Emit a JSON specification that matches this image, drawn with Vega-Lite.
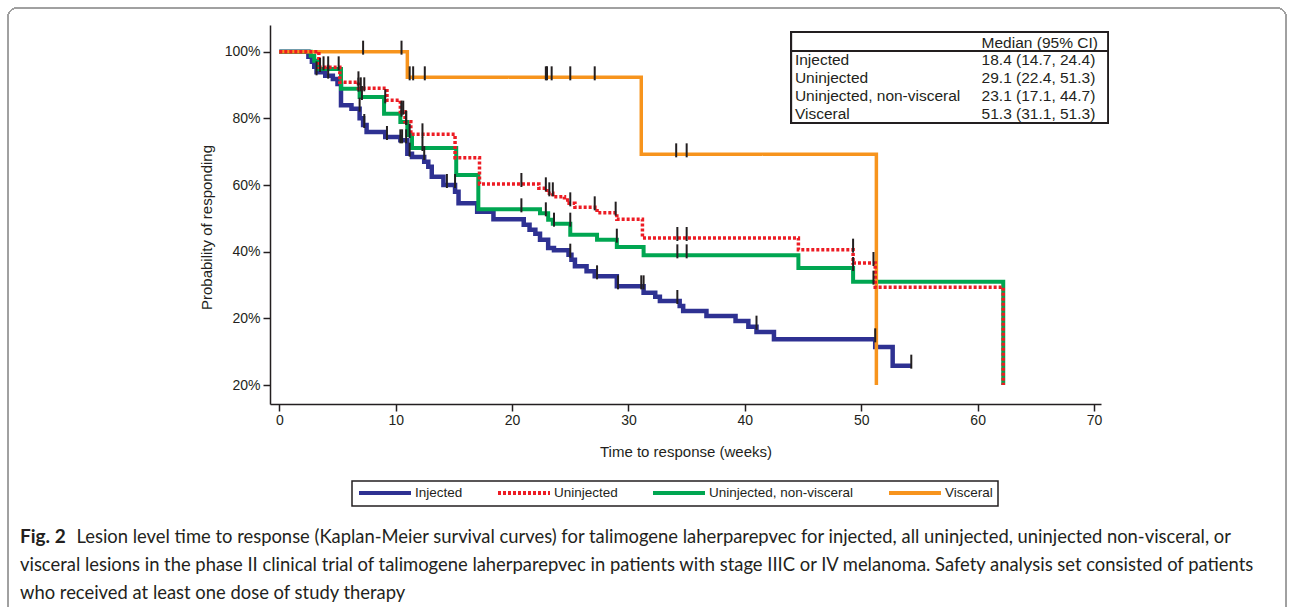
{
  "$schema": "https://vega.github.io/schema/vega-lite/v6.json",
  "width": 831,
  "height": 379,
  "autosize": {"type": "none"},
  "padding": {"left": 270, "top": 25, "right": 189, "bottom": 203},
  "background": "white",
  "config": {
    "view": {"stroke": null},
    "axis": {
      "grid": false,
      "domainColor": "#231F20",
      "domainWidth": 1.5,
      "tickColor": "#231F20",
      "tickWidth": 1.5,
      "tickSize": 7,
      "labelFont": "Liberation Sans",
      "labelFontSize": 14,
      "labelColor": "#231F20",
      "titleFont": "Liberation Sans",
      "titleFontSize": 15,
      "titleFontWeight": "normal",
      "titleColor": "#231F20"
    },
    "legend": {
      "strokeColor": "#231F20",
      "strokeWidth": 1.5,
      "padding": 5,
      "cornerRadius": 0,
      "fillColor": "white"
    }
  },
  "title": {
    "text": "Fig. 2",
    "subtitle": [
      "\u200b\u00a0\u00a0\u00a0\u00a0\u00a0\u00a0\u00a0\u00a0\u00a0\u00a0\u00a0\u00a0Lesion level time to response (Kaplan-Meier survival curves) for talimogene laherparepvec for injected, all uninjected, uninjected non-visceral, or",
      "visceral lesions in the phase II clinical trial of talimogene laherparepvec in patients with stage IIIC or IV melanoma. Safety analysis set consisted of patients",
      "who received at least one dose of study therapy"
    ],
    "orient": "bottom",
    "anchor": "start",
    "frame": "group",
    "dx": -250,
    "offset": -93,
    "font": "Lato",
    "fontSize": 19,
    "fontWeight": "bold",
    "color": "#231F20",
    "subtitleFont": "Lato",
    "subtitleFontSize": 18.4,
    "subtitleFontWeight": "normal",
    "subtitleColor": "#231F20",
    "subtitleLineHeight": 28,
    "subtitlePadding": -19
  },
  "datasets": {
    "curves": [
      {"series": "Injected", "t": 0, "p": 1},
      {"series": "Injected", "t": 2.5, "p": 0.985},
      {"series": "Injected", "t": 2.8, "p": 0.97},
      {"series": "Injected", "t": 3.0, "p": 0.955},
      {"series": "Injected", "t": 3.2, "p": 0.938},
      {"series": "Injected", "t": 3.95, "p": 0.928},
      {"series": "Injected", "t": 4.6, "p": 0.918},
      {"series": "Injected", "t": 5.0, "p": 0.903},
      {"series": "Injected", "t": 5.3, "p": 0.839},
      {"series": "Injected", "t": 6.2, "p": 0.829},
      {"series": "Injected", "t": 6.9, "p": 0.8},
      {"series": "Injected", "t": 7.2, "p": 0.78},
      {"series": "Injected", "t": 7.5, "p": 0.759},
      {"series": "Injected", "t": 9.1, "p": 0.744},
      {"series": "Injected", "t": 10.4, "p": 0.734},
      {"series": "Injected", "t": 11.0, "p": 0.694},
      {"series": "Injected", "t": 11.4, "p": 0.684},
      {"series": "Injected", "t": 12.45, "p": 0.67},
      {"series": "Injected", "t": 12.8, "p": 0.655},
      {"series": "Injected", "t": 13.1, "p": 0.625},
      {"series": "Injected", "t": 14.1, "p": 0.6},
      {"series": "Injected", "t": 15.1, "p": 0.58},
      {"series": "Injected", "t": 15.4, "p": 0.545},
      {"series": "Injected", "t": 17.0, "p": 0.52},
      {"series": "Injected", "t": 18.4, "p": 0.497},
      {"series": "Injected", "t": 21.0, "p": 0.481},
      {"series": "Injected", "t": 21.5, "p": 0.466},
      {"series": "Injected", "t": 22.0, "p": 0.454},
      {"series": "Injected", "t": 22.4, "p": 0.436},
      {"series": "Injected", "t": 23.1, "p": 0.411},
      {"series": "Injected", "t": 23.6, "p": 0.404},
      {"series": "Injected", "t": 24.85, "p": 0.391},
      {"series": "Injected", "t": 25.1, "p": 0.376},
      {"series": "Injected", "t": 25.4, "p": 0.356},
      {"series": "Injected", "t": 26.4, "p": 0.341},
      {"series": "Injected", "t": 27.1, "p": 0.326},
      {"series": "Injected", "t": 29.0, "p": 0.296},
      {"series": "Injected", "t": 31.3, "p": 0.277},
      {"series": "Injected", "t": 32.3, "p": 0.265},
      {"series": "Injected", "t": 32.7, "p": 0.252},
      {"series": "Injected", "t": 34.4, "p": 0.237},
      {"series": "Injected", "t": 34.7, "p": 0.222},
      {"series": "Injected", "t": 36.7, "p": 0.207},
      {"series": "Injected", "t": 39.2, "p": 0.192},
      {"series": "Injected", "t": 40.3, "p": 0.175},
      {"series": "Injected", "t": 41.0, "p": 0.159},
      {"series": "Injected", "t": 42.5, "p": 0.137},
      {"series": "Injected", "t": 51.2, "p": 0.114},
      {"series": "Injected", "t": 52.7, "p": 0.058},
      {"series": "Injected", "t": 54.3, "p": 0.058},
      {"series": "Uninjected", "t": 0, "p": 1},
      {"series": "Uninjected", "t": 3.4, "p": 0.953},
      {"series": "Uninjected", "t": 5.2, "p": 0.908},
      {"series": "Uninjected", "t": 6.8, "p": 0.89},
      {"series": "Uninjected", "t": 9.25, "p": 0.854},
      {"series": "Uninjected", "t": 10.4, "p": 0.82},
      {"series": "Uninjected", "t": 10.8, "p": 0.79},
      {"series": "Uninjected", "t": 11.3, "p": 0.752},
      {"series": "Uninjected", "t": 15.1, "p": 0.682},
      {"series": "Uninjected", "t": 17.2, "p": 0.603},
      {"series": "Uninjected", "t": 22.3, "p": 0.59},
      {"series": "Uninjected", "t": 23.0, "p": 0.575},
      {"series": "Uninjected", "t": 23.5, "p": 0.565},
      {"series": "Uninjected", "t": 24.5, "p": 0.555},
      {"series": "Uninjected", "t": 24.9, "p": 0.545},
      {"series": "Uninjected", "t": 25.4, "p": 0.533},
      {"series": "Uninjected", "t": 27.3, "p": 0.517},
      {"series": "Uninjected", "t": 29.0, "p": 0.497},
      {"series": "Uninjected", "t": 31.2, "p": 0.441},
      {"series": "Uninjected", "t": 44.6, "p": 0.406},
      {"series": "Uninjected", "t": 49.3, "p": 0.366},
      {"series": "Uninjected", "t": 51.2, "p": 0.293},
      {"series": "Uninjected", "t": 62.2, "p": 0},
      {"series": "Uninjected, non-visceral", "t": 0, "p": 1},
      {"series": "Uninjected, non-visceral", "t": 2.7, "p": 0.988},
      {"series": "Uninjected, non-visceral", "t": 3.0, "p": 0.973},
      {"series": "Uninjected, non-visceral", "t": 3.3, "p": 0.948},
      {"series": "Uninjected, non-visceral", "t": 5.3, "p": 0.889},
      {"series": "Uninjected, non-visceral", "t": 6.9, "p": 0.864},
      {"series": "Uninjected, non-visceral", "t": 9.0, "p": 0.814},
      {"series": "Uninjected, non-visceral", "t": 10.4, "p": 0.789},
      {"series": "Uninjected, non-visceral", "t": 11.0, "p": 0.75},
      {"series": "Uninjected, non-visceral", "t": 11.4, "p": 0.711},
      {"series": "Uninjected, non-visceral", "t": 15.2, "p": 0.63},
      {"series": "Uninjected, non-visceral", "t": 17.1, "p": 0.527},
      {"series": "Uninjected, non-visceral", "t": 22.4, "p": 0.515},
      {"series": "Uninjected, non-visceral", "t": 23.1, "p": 0.496},
      {"series": "Uninjected, non-visceral", "t": 23.5, "p": 0.484},
      {"series": "Uninjected, non-visceral", "t": 25.0, "p": 0.451},
      {"series": "Uninjected, non-visceral", "t": 27.3, "p": 0.436},
      {"series": "Uninjected, non-visceral", "t": 29.0, "p": 0.414},
      {"series": "Uninjected, non-visceral", "t": 31.3, "p": 0.389},
      {"series": "Uninjected, non-visceral", "t": 44.6, "p": 0.351},
      {"series": "Uninjected, non-visceral", "t": 49.3, "p": 0.31},
      {"series": "Uninjected, non-visceral", "t": 62.2, "p": 0},
      {"series": "Visceral", "t": 0, "p": 1},
      {"series": "Visceral", "t": 11.0, "p": 0.923},
      {"series": "Visceral", "t": 31.1, "p": 0.692},
      {"series": "Visceral", "t": 51.3, "p": 0}
    ],
    "censors": [
      {"series": "Injected", "t": 3.2, "p": 0.938},
      {"series": "Injected", "t": 4.2, "p": 0.928},
      {"series": "Injected", "t": 6.9, "p": 0.829},
      {"series": "Injected", "t": 7.3, "p": 0.78},
      {"series": "Injected", "t": 9.25, "p": 0.744},
      {"series": "Injected", "t": 10.4, "p": 0.734},
      {"series": "Injected", "t": 10.55, "p": 0.734},
      {"series": "Injected", "t": 10.9, "p": 0.734},
      {"series": "Injected", "t": 11.2, "p": 0.694},
      {"series": "Injected", "t": 12.45, "p": 0.684},
      {"series": "Injected", "t": 14.4, "p": 0.6},
      {"series": "Injected", "t": 15.1, "p": 0.6},
      {"series": "Injected", "t": 25.0, "p": 0.391},
      {"series": "Injected", "t": 27.3, "p": 0.326},
      {"series": "Injected", "t": 29.1, "p": 0.296},
      {"series": "Injected", "t": 31.1, "p": 0.296},
      {"series": "Injected", "t": 31.3, "p": 0.296},
      {"series": "Injected", "t": 34.2, "p": 0.252},
      {"series": "Injected", "t": 41.0, "p": 0.175},
      {"series": "Injected", "t": 51.2, "p": 0.137},
      {"series": "Injected", "t": 54.3, "p": 0.058},
      {"series": "Uninjected", "t": 3.8, "p": 0.953},
      {"series": "Uninjected", "t": 4.2, "p": 0.953},
      {"series": "Uninjected", "t": 5.1, "p": 0.953},
      {"series": "Uninjected", "t": 6.8, "p": 0.908},
      {"series": "Uninjected", "t": 7.0, "p": 0.89},
      {"series": "Uninjected", "t": 7.3, "p": 0.89},
      {"series": "Uninjected", "t": 9.1, "p": 0.854},
      {"series": "Uninjected", "t": 10.5, "p": 0.82},
      {"series": "Uninjected", "t": 10.65, "p": 0.82},
      {"series": "Uninjected", "t": 10.9, "p": 0.79},
      {"series": "Uninjected", "t": 12.3, "p": 0.752},
      {"series": "Uninjected", "t": 20.8, "p": 0.603},
      {"series": "Uninjected", "t": 22.9, "p": 0.59},
      {"series": "Uninjected", "t": 23.2, "p": 0.575},
      {"series": "Uninjected", "t": 23.5, "p": 0.575},
      {"series": "Uninjected", "t": 25.0, "p": 0.545},
      {"series": "Uninjected", "t": 27.1, "p": 0.533},
      {"series": "Uninjected", "t": 28.9, "p": 0.517},
      {"series": "Uninjected", "t": 34.2, "p": 0.441},
      {"series": "Uninjected", "t": 35.0, "p": 0.441},
      {"series": "Uninjected", "t": 49.3, "p": 0.406},
      {"series": "Uninjected", "t": 51.05, "p": 0.366},
      {"series": "Uninjected, non-visceral", "t": 3.5, "p": 0.948},
      {"series": "Uninjected, non-visceral", "t": 6.8, "p": 0.889},
      {"series": "Uninjected, non-visceral", "t": 7.1, "p": 0.864},
      {"series": "Uninjected, non-visceral", "t": 10.5, "p": 0.814},
      {"series": "Uninjected, non-visceral", "t": 10.9, "p": 0.789},
      {"series": "Uninjected, non-visceral", "t": 11.2, "p": 0.75},
      {"series": "Uninjected, non-visceral", "t": 12.3, "p": 0.711},
      {"series": "Uninjected, non-visceral", "t": 20.8, "p": 0.527},
      {"series": "Uninjected, non-visceral", "t": 22.9, "p": 0.515},
      {"series": "Uninjected, non-visceral", "t": 23.6, "p": 0.484},
      {"series": "Uninjected, non-visceral", "t": 25.0, "p": 0.484},
      {"series": "Uninjected, non-visceral", "t": 29.0, "p": 0.436},
      {"series": "Uninjected, non-visceral", "t": 34.2, "p": 0.389},
      {"series": "Uninjected, non-visceral", "t": 35.0, "p": 0.389},
      {"series": "Uninjected, non-visceral", "t": 49.3, "p": 0.351},
      {"series": "Uninjected, non-visceral", "t": 51.05, "p": 0.31},
      {"series": "Visceral", "t": 7.2, "p": 1},
      {"series": "Visceral", "t": 10.5, "p": 1},
      {"series": "Visceral", "t": 11.2, "p": 0.923},
      {"series": "Visceral", "t": 11.5, "p": 0.923},
      {"series": "Visceral", "t": 12.5, "p": 0.923},
      {"series": "Visceral", "t": 22.9, "p": 0.923},
      {"series": "Visceral", "t": 23.0, "p": 0.923},
      {"series": "Visceral", "t": 23.4, "p": 0.923},
      {"series": "Visceral", "t": 25.0, "p": 0.923},
      {"series": "Visceral", "t": 27.1, "p": 0.923},
      {"series": "Visceral", "t": 34.1, "p": 0.692},
      {"series": "Visceral", "t": 35.0, "p": 0.692}
    ],
    "table": [
      {"row": "h", "label": "", "value": "Median (95% CI)"},
      {"row": "a", "label": "Injected", "value": "18.4 (14.7, 24.4)"},
      {"row": "b", "label": "Uninjected", "value": "29.1 (22.4, 51.3)"},
      {"row": "c", "label": "Uninjected, non-visceral", "value": "23.1 (17.1, 44.7)"},
      {"row": "d", "label": "Visceral", "value": "51.3 (31.1, 51.3)"}
    ]
  },
  "layer": [
    {
      "data": {"name": "curves"},
      "encoding": {
        "x": {
          "field": "t",
          "type": "quantitative",
          "scale": {"domain": [-0.8, 70.6], "nice": false, "zero": false},
          "axis": {
            "title": "Time to response (weeks)",
            "values": [0, 10, 20, 30, 40, 50, 60, 70],
            "format": "d",
            "labelPadding": 2,
            "titlePadding": 17
          }
        },
        "y": {
          "field": "p",
          "type": "quantitative",
          "scale": {"domain": [-0.057, 1.08], "nice": false, "zero": false},
          "axis": {
            "title": "Probability of responding",
            "values": [0, 0.2, 0.4, 0.6, 0.8, 1],
            "labelExpr": "datum.value == 0 ? '20%' : format(datum.value, '.0%')",
            "labelPadding": 3,
            "titlePadding": 10,
            "titleY": 202
          }
        },
        "color": {
          "field": "series",
          "type": "nominal",
          "scale": {
            "domain": ["Injected", "Uninjected", "Uninjected, non-visceral", "Visceral"],
            "range": ["#2E3192", "#ED1C24", "#00A651", "#F7941D"]
          },
          "legend": {
            "title": null,
            "orient": "none",
            "legendX": 82,
            "legendY": 456,
            "direction": "horizontal",
            "symbolType": "M-1,0H9.4",
            "symbolSize": 100,
            "symbolStrokeWidth": 4,
            "labelFont": "Liberation Sans",
            "labelFontSize": 13.5,
            "labelColor": "#231F20",
            "labelOffset": 44,
            "columnPadding": 27
          }
        },
        "strokeDash": {
          "field": "series",
          "type": "nominal",
          "scale": {
            "domain": ["Injected", "Uninjected", "Uninjected, non-visceral", "Visceral"],
            "range": [[1, 0], [3, 2], [1, 0], [1, 0]]
          },
          "legend": {
            "title": null,
            "orient": "none",
            "legendX": 82,
            "legendY": 456,
            "direction": "horizontal",
            "symbolType": "M-1,0H9.4",
            "symbolSize": 100,
            "symbolStrokeWidth": 4,
            "labelFont": "Liberation Sans",
            "labelFontSize": 13.5,
            "labelColor": "#231F20",
            "labelOffset": 44,
            "columnPadding": 27
          }
        }
      },
      "layer": [
        {
          "mark": {"type": "rect", "fill": null, "fillOpacity": 0, "stroke": "#A0A0A0", "strokeWidth": 1, "cornerRadius": 9},
          "encoding": {
            "x": {"datum": -23.31, "type": "quantitative"},
            "x2": {"datum": 86.49},
            "y": {"datum": 1.131, "type": "quantitative"},
            "y2": {"datum": -0.705},
            "color": {"value": "transparent"},
            "strokeDash": {"value": [1, 0]}
          }
        },
        {
          "mark": {"type": "rect", "fill": "white", "stroke": "#231F20", "strokeWidth": 1.5},
          "encoding": {
            "x": {"datum": 44.0, "type": "quantitative"},
            "x2": {"datum": 71.19},
            "y": {"datum": 1.058, "type": "quantitative"},
            "y2": {"datum": 0.787},
            "color": {"value": "white"},
            "strokeDash": {"value": [1, 0]}
          }
        },
        {
          "mark": {"type": "rule", "stroke": "#231F20", "strokeWidth": 1.5},
          "encoding": {
            "x": {"datum": 44.0, "type": "quantitative"},
            "x2": {"datum": 71.19},
            "y": {"datum": 1.002, "type": "quantitative"},
            "color": {"value": "#231F20"},
            "strokeDash": {"value": [1, 0]}
          }
        },
        {
          "transform": [{"filter": "datum.series == 'Injected'"}],
          "mark": {"type": "line", "interpolate": "step-after", "strokeWidth": 4.5}
        },
        {
          "transform": [{"filter": "datum.series == 'Uninjected, non-visceral'"}],
          "mark": {"type": "line", "interpolate": "step-after", "strokeWidth": 4}
        },
        {
          "transform": [{"filter": "datum.series == 'Visceral'"}],
          "mark": {"type": "line", "interpolate": "step-after", "strokeWidth": 3.5}
        },
        {
          "transform": [{"filter": "datum.series == 'Uninjected'"}],
          "mark": {"type": "line", "interpolate": "step-after", "strokeWidth": 3.5}
        },
        {
          "data": {"name": "censors"},
          "mark": {"type": "tick", "orient": "vertical", "color": "#231F20", "opacity": 1, "size": 14, "thickness": 2, "yOffset": -4},
          "encoding": {
            "color": {"value": "#231F20"},
            "strokeDash": {"value": [1, 0]}
          }
        }
      ]
    },
    {
      "data": {"name": "table"},
      "encoding": {
        "y": {
          "field": "row",
          "type": "ordinal",
          "scale": {"type": "point", "domain": ["h", "a", "b", "c", "d"], "range": [17.5, 89], "padding": 0},
          "axis": null
        }
      },
      "layer": [
        {
          "mark": {"type": "text", "align": "left", "baseline": "middle", "font": "Liberation Sans", "fontSize": 15.5, "color": "#231F20"},
          "encoding": {
            "x": {"datum": 44.3, "type": "quantitative", "scale": {"domain": [-0.8, 70.6], "nice": false, "zero": false}},
            "text": {"field": "label"}
          }
        },
        {
          "mark": {"type": "text", "align": "left", "baseline": "middle", "font": "Liberation Sans", "fontSize": 15.5, "color": "#231F20"},
          "encoding": {
            "x": {"datum": 60.34, "type": "quantitative", "scale": {"domain": [-0.8, 70.6], "nice": false, "zero": false}},
            "text": {"field": "value"}
          }
        }
      ]
    }
  ],
  "resolve": {"scale": {"y": "independent"}, "axis": {"y": "independent"}}
}
